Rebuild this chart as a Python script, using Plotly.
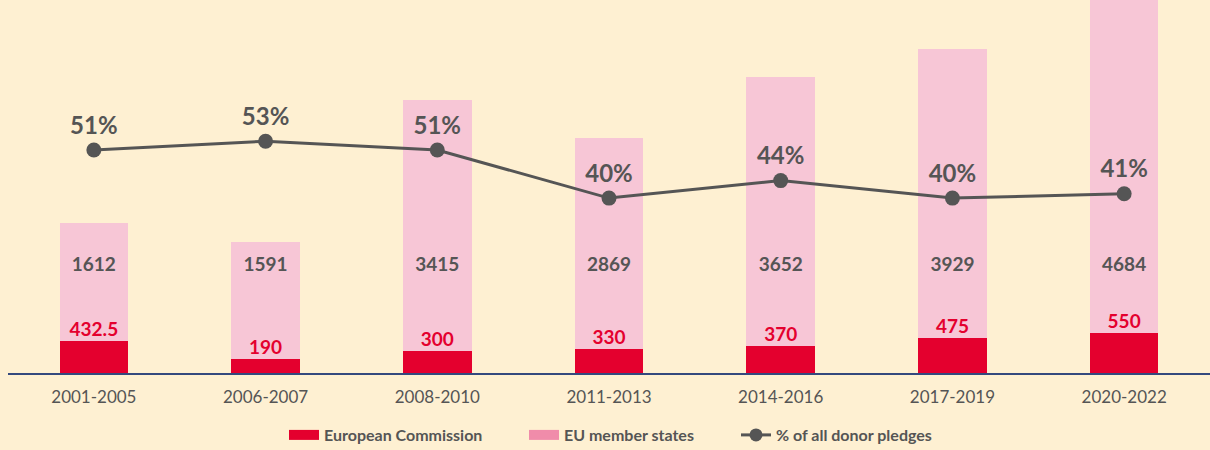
import plotly.graph_objects as go

periods = ["2001-2005", "2006-2007", "2008-2010", "2011-2013", "2014-2016", "2017-2019", "2020-2022"]
ec_values = [432.5, 190, 300, 330, 370, 475, 550]
ms_values = [1612, 1591, 3415, 2869, 3652, 3929, 4684]
pct_values = [51, 53, 51, 40, 44, 40, 41]
ec_labels = ["432.5", "190", "300", "330", "370", "475", "550"]

BG = "#FEF0D2"
RED = "#E4002E"
PINK = "#F7C6D6"
PINK_LEGEND = "#F08CAA"
GRAY = "#555555"
FONT = "Lato"

fig = go.Figure()
fig.add_trace(go.Bar(x=periods, y=ec_values, name="European Commission", showlegend=False,
                     marker=dict(color=RED, line=dict(width=0)), hoverinfo="skip"))
fig.add_trace(go.Bar(x=periods, y=ms_values, name="EU member states", showlegend=False,
                     marker=dict(color=PINK, line=dict(width=0)), hoverinfo="skip"))
fig.add_trace(go.Scatter(x=periods, y=pct_values, name="% of all donor pledges", yaxis="y2",
                         mode="lines+markers+text", text=[f"{v}%" for v in pct_values],
                         textposition="top center", showlegend=False,
                         textfont=dict(family=FONT, size=24, color=GRAY, weight="bold"),
                         line=dict(color=GRAY, width=3), marker=dict(color=GRAY, size=15)))
# EC value labels just above the red segment
fig.add_trace(go.Scatter(x=periods, y=ec_values, mode="text", text=ec_labels,
                         textposition="top center", showlegend=False, hoverinfo="skip",
                         textfont=dict(family=FONT, size=19, color=RED, weight="bold")))
# member state labels at a common height
label_y = 1450
fig.add_trace(go.Scatter(x=periods, y=[label_y] * len(periods), mode="text",
                         text=[str(v) for v in ms_values], showlegend=False, hoverinfo="skip",
                         textfont=dict(family=FONT, size=19, color=GRAY, weight="bold")))

# legend-only entries (wide rectangles / line with marker), one legend each
fig.add_trace(go.Scatter(x=[None], y=[None], mode="lines", name="European Commission",
                         line=dict(color=RED, width=11), legend="legend"))
fig.add_trace(go.Scatter(x=[None], y=[None], mode="lines", name="EU member states",
                         line=dict(color=PINK_LEGEND, width=11), legend="legend2"))
fig.add_trace(go.Scatter(x=[None], y=[None], mode="lines+markers", name="% of all donor pledges",
                         line=dict(color=GRAY, width=3), marker=dict(color=GRAY, size=13),
                         legend="legend3"))

leg_common = dict(orientation="h", xref="container", yref="container", y=15 / 450,
                  xanchor="left", yanchor="middle", bgcolor="rgba(0,0,0,0)",
                  font=dict(size=16, color=GRAY, weight="bold"))

fig.update_layout(
    width=1210, height=450,
    margin=dict(l=8, r=0, t=0, b=77),
    paper_bgcolor=BG, plot_bgcolor=BG,
    barmode="stack", bargap=0.6,
    font=dict(family=FONT, color=GRAY),
    xaxis=dict(showgrid=False, showline=True, linecolor="#34497E", linewidth=1.5,
               ticks="", tickfont=dict(size=17, color=GRAY), zeroline=False,
               ticklabelstandoff=8),
    yaxis=dict(range=[0, 5075], visible=False, showgrid=False, zeroline=False),
    yaxis2=dict(range=[0, 85.3], overlaying="y", visible=False, showgrid=False, zeroline=False),
    legend=dict(leg_common, x=284 / 1210),
    legend2=dict(leg_common, x=524 / 1210),
    legend3=dict(leg_common, x=736 / 1210),
    showlegend=True,
)

fig.write_html("out.html", post_script="document.body.style.margin='0';",
               config={"displayModeBar": False})
